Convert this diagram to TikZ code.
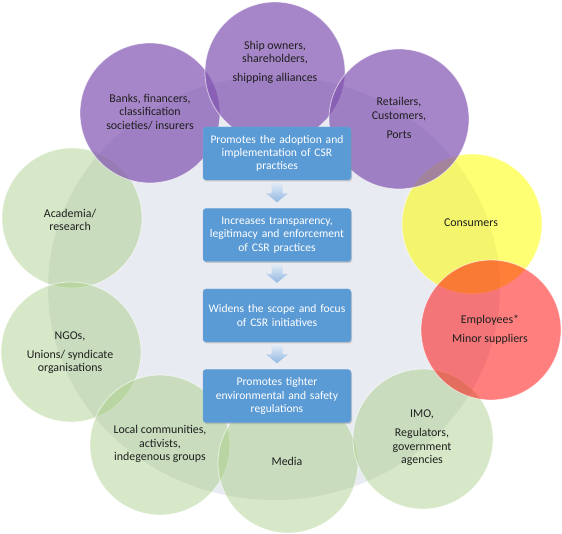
\documentclass[tikz,border=0pt]{standalone}
\usepackage{fontspec}
\setmainfont{Carlito}
\usepackage{tikz}
\usetikzlibrary{calc,shadows,shapes.geometric}

\definecolor{ringgray}{RGB}{232,235,241}
\definecolor{lilac}{RGB}{130,84,177}
\definecolor{leaf}{RGB}{165,204,130}
\definecolor{lemon}{RGB}{255,255,0}
\definecolor{coral}{RGB}{255,0,0}
\definecolor{stepblue}{RGB}{91,155,213}
\definecolor{arrowtop}{RGB}{224,234,246}
\definecolor{arrowbot}{RGB}{146,184,226}

\tikzset{
  stake/.style={circle, minimum size=140pt, inner sep=0pt, draw=white, line width=0.8pt, draw opacity=0.6},
  owner/.style={stake, fill=lilac, fill opacity=0.71},
  green/.style={stake, fill=leaf, fill opacity=0.45},
  lbl/.style={align=center, text=black!88, font=\fontsize{11.9}{13.6}\selectfont},
  stepbox/.style={rectangle, rounded corners=3pt, fill=stepblue, draw=stepblue!85!white,
    text=white, align=center, text width=146pt, minimum width=148pt, minimum height=53pt,
    inner sep=0pt, font=\fontsize{11.6}{13.4}\selectfont,
    drop shadow={shadow xshift=1pt, shadow yshift=-1.5pt, opacity=0.35}},
  flow/.style={top color=arrowtop, bottom color=arrowbot}
}

\newcommand{\flowarrow}[2]{%
  \path[flow] ($(#1.south)+(-5.5,3)$) -- ($(#1.south)+(5.5,3)$)
    -- ($(#2.north)+(5.5,-15)$) -- ($(#2.north)+(11,-15)$)
    -- ($(#2.north)+(0,-6)$) -- ($(#2.north)+(-11,-15)$)
    -- ($(#2.north)+(-5.5,-15)$) -- cycle;}

\begin{document}
\begin{tikzpicture}[x=1pt, y=-1pt]
\useasboundingbox (0,0) rectangle (562,534);
\node (ring) at (274, 288) [ellipse, fill=ringgray, minimum width=452pt, minimum height=424pt, inner sep=0pt] {};

\node (acad)  at (72, 218)  [green] {};
\node (ngos)  at (71, 352)  [green] {};
\node (local) at (160, 445) [green] {};
\node (media) at (288, 463) [green] {};
\node (imo)   at (423, 439) [green] {};
\node (cons)  at (472, 224) [stake, fill=lemon, fill opacity=0.55] {};
\node (empl)  at (491, 330) [stake, fill=coral, fill opacity=0.5] {};
\node (banks) at (150, 113) [owner] {};
\node (ship)  at (275, 72)  [owner] {};
\node (retl)  at (399, 119) [owner] {};

\node (shiptxt)  at (275, 62)  [lbl] {Ship owners,\\shareholders,\\[5pt]shipping alliances};
\node (bankstxt) at (150, 112) [lbl] {Banks, financers,\\classification\\societies/ insurers};
\node (retltxt)  at (399, 118) [lbl] {Retailers,\\Customers,\\[5pt]Ports};
\node (acadtxt)  at (70, 220)  [lbl] {Academia/\\research};
\node (constxt)  at (471, 223) [lbl] {Consumers};
\node (empltxt)  at (490, 330) [lbl] {Employees*\\[5pt]Minor suppliers};
\node (ngostxt)  at (70, 353)  [lbl] {NGOs,\\[5pt]Unions/ syndicate\\organisations};
\node (localtxt) at (160, 444) [lbl] {Local communities,\\activists,\\indegenous groups};
\node (mediatxt) at (287, 461) [lbl] {Media};
\node (imotxt)   at (422, 438) [lbl] {IMO,\\[5pt]Regulators,\\government\\agencies};

\node (adopt)  at (277, 153.5) [stepbox] {Promotes the adoption and\\implementation of CSR\\practises};
\node (transp) at (277, 235)   [stepbox] {Increases transparency,\\legitimacy and enforcement\\of CSR practices};
\node (widen)  at (277, 315.5) [stepbox] {Widens the scope and focus\\of CSR initiatives};
\node (regul)  at (277, 396)   [stepbox] {Promotes tighter\\environmental and safety\\regulations};

\flowarrow{adopt}{transp}
\flowarrow{transp}{widen}
\flowarrow{widen}{regul}
\end{tikzpicture}
\end{document}
